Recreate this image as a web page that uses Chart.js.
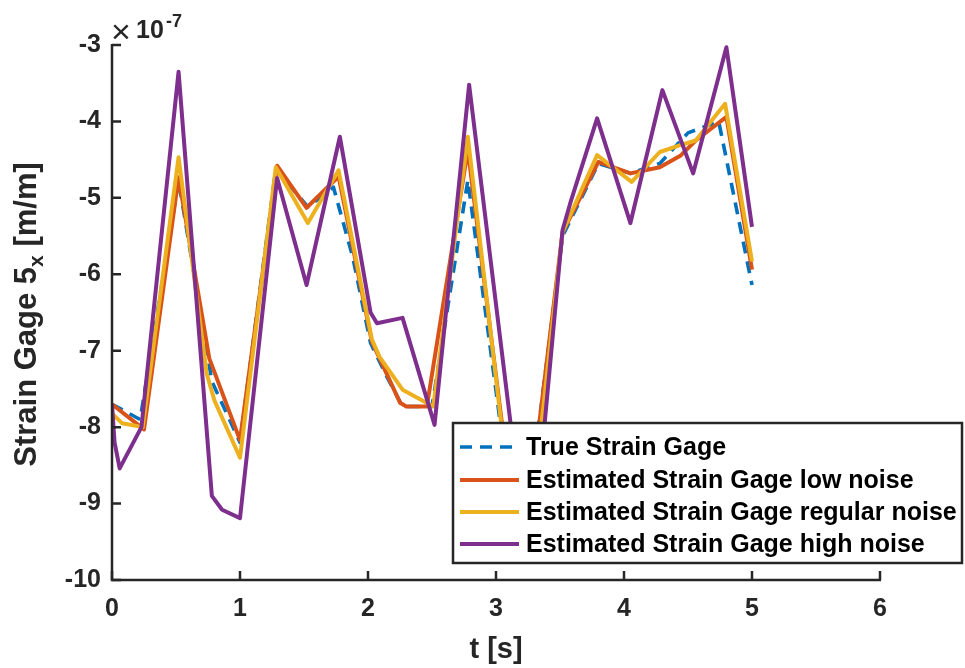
<!DOCTYPE html>
<html><head><meta charset="utf-8">
<script src="https://cdn.jsdelivr.net/npm/chart.js@4"></script>
<style>html,body{margin:0;padding:0;background:#fff}#wrap{width:965px;height:668px}</style>
</head><body><div id="wrap"><canvas id="c" width="965" height="668"></canvas></div>
<script>
// ---- data (values in units of 1e-7 m/m) ----
const xTicks = [0, 1, 2, 3, 4, 5, 6];
const yTicks = [-3, -4, -5, -6, -7, -8, -9, -10];
const seriesLabels = ['True Strain Gage', 'Estimated Strain Gage low noise', 'Estimated Strain Gage regular noise', 'Estimated Strain Gage high noise'];

const tTrue = [0, 0.22, 0.52, 0.78, 1.0, 1.28, 1.53, 1.73, 1.88, 2.02, 2.15, 2.27, 2.5, 2.78, 3.03, 3.18, 3.34, 3.52, 3.8, 4.05, 4.28, 4.5, 4.74, 5.0];
const vTrue = [-7.7, -7.9, -4.77, -7.4, -8.2, -4.62, -5.12, -4.86, -5.77, -6.9, -7.35, -7.73, -7.73, -4.77, -7.9, -9.3, -7.9, -5.5, -4.55, -4.68, -4.55, -4.15, -4.0, -6.14];

const tLow = [0, 0.25, 0.52, 0.76, 1.0, 1.29, 1.52, 1.77, 2.03, 2.25, 2.3, 2.46, 2.78, 3.08, 3.2, 3.32, 3.52, 3.8, 4.05, 4.28, 4.44, 4.56, 4.8, 5.0];
const vLow = [-7.7, -8.03, -4.73, -7.1, -8.17, -4.58, -5.13, -4.72, -6.88, -7.68, -7.73, -7.73, -4.37, -8.4, -9.3, -8.2, -5.45, -4.53, -4.68, -4.6, -4.45, -4.25, -3.94, -5.94];

const tReg = [0, 0.08, 0.24, 0.52, 0.74, 0.8, 1.0, 1.28, 1.53, 1.77, 2.03, 2.09, 2.27, 2.51, 2.78, 3.1, 3.3, 3.52, 3.79, 4.06, 4.28, 4.44, 4.56, 4.79, 5.0];
const vReg = [-7.82, -7.95, -8.0, -4.47, -7.3, -7.65, -8.4, -4.6, -5.33, -4.64, -6.85, -7.08, -7.51, -7.73, -4.2, -8.8, -8.8, -5.45, -4.44, -4.79, -4.4, -4.31, -4.25, -3.77, -5.83];

const tHigh = [0, 0.02, 0.06, 0.23, 0.52, 0.78, 0.86, 1.0, 1.29, 1.52, 1.78, 2.02, 2.07, 2.27, 2.52, 2.79, 3.22, 3.3, 3.52, 3.58, 3.79, 4.05, 4.3, 4.54, 4.8, 5.0];
const vHigh = [-7.7, -8.2, -8.54, -8.0, -3.35, -8.9, -9.08, -9.19, -4.74, -6.14, -4.2, -6.5, -6.64, -6.57, -7.97, -3.52, -9.4, -9.4, -5.42, -5.07, -3.96, -5.33, -3.59, -4.68, -3.03, -5.38];

const colors = ['#0072BD', '#D95319', '#EDB120', '#7E2F8E'];

function pts(t, v) { return t.map((x, i) => ({ x: x, y: v[i] })); }

const FONT = "'Liberation Sans', Arial, Helvetica, sans-serif";
Chart.defaults.font.family = FONT;

const axesPlugin = {
  id: 'matlabAxes',
  afterDatasetsDraw(chart) {
    const { ctx, chartArea: a, scales: { x, y } } = chart;
    ctx.save();
    ctx.strokeStyle = '#262626';
    ctx.lineWidth = 2.5;
    ctx.beginPath();
    ctx.moveTo(a.left, a.top - 1);
    ctx.lineTo(a.left, a.bottom);
    ctx.lineTo(a.right + 1, a.bottom);
    ctx.stroke();
    ctx.beginPath();
    xTicks.forEach(v => { const px = x.getPixelForValue(v); ctx.moveTo(px, a.bottom); ctx.lineTo(px, a.bottom - 9); });
    yTicks.forEach(v => { const py = y.getPixelForValue(v); ctx.moveTo(a.left, py); ctx.lineTo(a.left + 9, py); });
    ctx.stroke();
    ctx.restore();
  },
  afterDraw(chart) {
    const { ctx, chartArea: a } = chart;
    ctx.save();
    // exponent label
    ctx.fillStyle = '#262626';
    ctx.textBaseline = 'alphabetic';
    ctx.textAlign = 'left';
    ctx.font = "34px " + FONT;
    ctx.fillText('\u00d7', 111, 43);
    ctx.font = "bold 25px " + FONT;
    ctx.fillText('10', 136, 38);
    ctx.font = "bold 18px " + FONT;
    ctx.fillText('-7', 166, 27);

    // y axis title with subscript
    const cy = (a.top + a.bottom) / 2 + 2;
    ctx.translate(36, cy);
    ctx.rotate(-Math.PI / 2);
    const fMain = "bold 31px " + FONT, fSub = "bold 21px " + FONT;
    const p1 = 'Strain Gage 5', p2 = 'x', p3 = ' [m/m]';
    ctx.font = fMain; const w1 = ctx.measureText(p1).width, w3 = ctx.measureText(p3).width;
    ctx.font = fSub; const w2 = ctx.measureText(p2).width;
    let sx = -(w1 + w2 + w3) / 2;
    ctx.font = fMain; ctx.fillText(p1, sx, 0); sx += w1;
    ctx.font = fSub; ctx.fillText(p2, sx, 7); sx += w2;
    ctx.font = fMain; ctx.fillText(p3, sx, 0);
    ctx.restore();

    // x axis title
    ctx.save();
    ctx.fillStyle = '#262626';
    ctx.font = "bold 29px " + FONT;
    ctx.textAlign = 'center';
    ctx.textBaseline = 'alphabetic';
    ctx.fillText('t [s]', (a.left + a.right) / 2, 658);
    ctx.restore();

    // legend
    ctx.save();
    const L = 453, T = 423, R = 962, B = 563;
    ctx.fillStyle = '#fff';
    ctx.fillRect(L, T, R - L, B - T);
    ctx.strokeStyle = '#262626';
    ctx.lineWidth = 2.5;
    ctx.strokeRect(L, T, R - L, B - T);
    const rows = [447, 480, 512, 544];
    chart.data.datasets.forEach((ds, i) => {
      const yy = rows[i];
      ctx.strokeStyle = ds.borderColor;
      ctx.lineWidth = ds.borderWidth;
      ctx.setLineDash(ds.borderDash || []);
      ctx.beginPath();
      ctx.moveTo(460, yy); ctx.lineTo(519, yy);
      ctx.stroke();
      ctx.setLineDash([]);
      ctx.fillStyle = '#000';
      ctx.font = "bold 25px " + FONT;
      ctx.textAlign = 'left';
      ctx.textBaseline = 'middle';
      ctx.fillText(ds.label, 526, yy + 1);
    });
    ctx.restore();
  }
};

const mk = (i, t, v, extra) => Object.assign({
  label: seriesLabels[i], data: pts(t, v), borderColor: colors[i], backgroundColor: colors[i],
  borderWidth: 4, pointRadius: 0, tension: 0, fill: false, borderJoinStyle: 'round', borderCapStyle: 'butt', order: 4 - i
}, extra || {});

new Chart(document.getElementById('c'), {
  type: 'line',
  data: {
    datasets: [
      mk(0, tTrue, vTrue, { borderDash: [12, 8], borderWidth: 3.6 }),
      mk(1, tLow, vLow),
      mk(2, tReg, vReg),
      mk(3, tHigh, vHigh)
    ]
  },
  options: {
    responsive: false, animation: false, devicePixelRatio: 1,
    layout: { padding: { left: 0, top: 45, right: 85, bottom: 0 } },
    plugins: { legend: { display: false }, tooltip: { enabled: false } },
    scales: {
      x: {
        type: 'linear', min: 0, max: 6, border: { display: false },
        grid: { display: false, drawTicks: false },
        afterBuildTicks: s => { s.ticks = xTicks.map(v => ({ value: v })); },
        afterFit: s => { s.height = 88; },
        ticks: { padding: 14, color: '#262626', font: { size: 25, weight: 'bold' }, maxRotation: 0, callback: v => String(v) }
      },
      y: {
        type: 'linear', min: -10, max: -3, border: { display: false },
        grid: { display: false, drawTicks: false },
        afterBuildTicks: s => { s.ticks = yTicks.map(v => ({ value: v })); },
        afterFit: s => { s.width = 112; },
        ticks: { padding: 11, color: '#262626', font: { size: 25, weight: 'bold' }, callback: v => String(v) }
      }
    }
  },
  plugins: [axesPlugin]
});
</script>
</body></html>
